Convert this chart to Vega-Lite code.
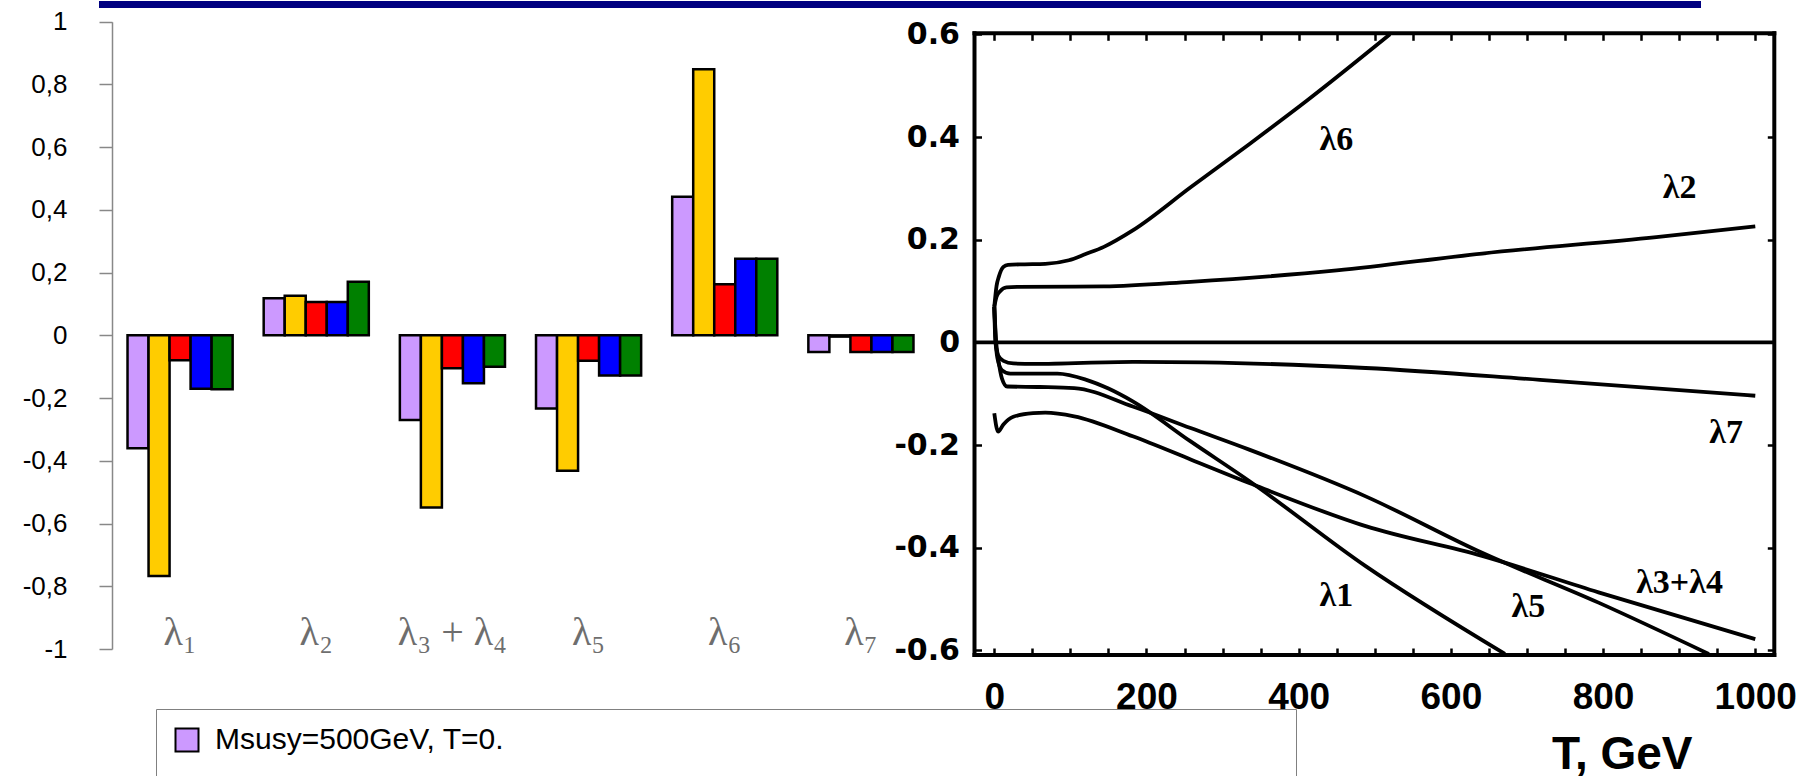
{
  "$schema": "https://vega.github.io/schema/vega-lite/v6.json",
  "width": 1812,
  "height": 776,
  "autosize": {"type": "none"},
  "padding": 0,
  "background": "white",
  "config": {"view": {"stroke": null}, "axis": {"grid": false}},
  "datasets": {
    "banner": [{"x0": 0, "x1": 1}],
    "bars": [
      {"group": "λ1", "series": "Msusy=500GeV, T=0.", "value": -0.36},
      {"group": "λ1", "series": "series 2", "value": -0.767},
      {"group": "λ1", "series": "series 3", "value": -0.079},
      {"group": "λ1", "series": "series 4", "value": -0.17},
      {"group": "λ1", "series": "series 5", "value": -0.172},
      {"group": "λ2", "series": "Msusy=500GeV, T=0.", "value": 0.118},
      {"group": "λ2", "series": "series 2", "value": 0.126},
      {"group": "λ2", "series": "series 3", "value": 0.106},
      {"group": "λ2", "series": "series 4", "value": 0.106},
      {"group": "λ2", "series": "series 5", "value": 0.171},
      {"group": "λ3+λ4", "series": "Msusy=500GeV, T=0.", "value": -0.27},
      {"group": "λ3+λ4", "series": "series 2", "value": -0.549},
      {"group": "λ3+λ4", "series": "series 3", "value": -0.105},
      {"group": "λ3+λ4", "series": "series 4", "value": -0.153},
      {"group": "λ3+λ4", "series": "series 5", "value": -0.1},
      {"group": "λ5", "series": "Msusy=500GeV, T=0.", "value": -0.233},
      {"group": "λ5", "series": "series 2", "value": -0.432},
      {"group": "λ5", "series": "series 3", "value": -0.081},
      {"group": "λ5", "series": "series 4", "value": -0.128},
      {"group": "λ5", "series": "series 5", "value": -0.128},
      {"group": "λ6", "series": "Msusy=500GeV, T=0.", "value": 0.442},
      {"group": "λ6", "series": "series 2", "value": 0.848},
      {"group": "λ6", "series": "series 3", "value": 0.163},
      {"group": "λ6", "series": "series 4", "value": 0.244},
      {"group": "λ6", "series": "series 5", "value": 0.244},
      {"group": "λ7", "series": "Msusy=500GeV, T=0.", "value": -0.053},
      {"group": "λ7", "series": "series 2", "value": -0.004},
      {"group": "λ7", "series": "series 3", "value": -0.053},
      {"group": "λ7", "series": "series 4", "value": -0.053},
      {"group": "λ7", "series": "series 5", "value": -0.053}
    ],
    "cats": [
      {"group": "λ1", "label": "λ₁"},
      {"group": "λ2", "label": "λ₂"},
      {"group": "λ3+λ4", "label": "λ₃ + λ₄"},
      {"group": "λ5", "label": "λ₅"},
      {"group": "λ6", "label": "λ₆"},
      {"group": "λ7", "label": "λ₇"}
    ],
    "curves": [
      {"line": "λ6", "T": 0, "value": 0.069},
      {"line": "λ6", "T": 3, "value": 0.11},
      {"line": "λ6", "T": 6, "value": 0.128},
      {"line": "λ6", "T": 12, "value": 0.147},
      {"line": "λ6", "T": 18, "value": 0.151},
      {"line": "λ6", "T": 40, "value": 0.152},
      {"line": "λ6", "T": 67, "value": 0.153},
      {"line": "λ6", "T": 98, "value": 0.16},
      {"line": "λ6", "T": 120, "value": 0.172},
      {"line": "λ6", "T": 144, "value": 0.186},
      {"line": "λ6", "T": 182, "value": 0.218},
      {"line": "λ6", "T": 258, "value": 0.302},
      {"line": "λ6", "T": 335, "value": 0.386},
      {"line": "λ6", "T": 411, "value": 0.471},
      {"line": "λ6", "T": 520, "value": 0.6},
      {"line": "λ2", "T": 0, "value": 0.069},
      {"line": "λ2", "T": 3, "value": 0.089},
      {"line": "λ2", "T": 8, "value": 0.1},
      {"line": "λ2", "T": 16, "value": 0.107},
      {"line": "λ2", "T": 30, "value": 0.108},
      {"line": "λ2", "T": 144, "value": 0.109},
      {"line": "λ2", "T": 258, "value": 0.118},
      {"line": "λ2", "T": 450, "value": 0.14},
      {"line": "λ2", "T": 641, "value": 0.173},
      {"line": "λ2", "T": 870, "value": 0.205},
      {"line": "λ2", "T": 1000, "value": 0.226},
      {"line": "λ7", "T": 0, "value": 0.069},
      {"line": "λ7", "T": 1.5, "value": 0.0},
      {"line": "λ7", "T": 5, "value": -0.025},
      {"line": "λ7", "T": 12, "value": -0.036},
      {"line": "λ7", "T": 25, "value": -0.041},
      {"line": "λ7", "T": 52, "value": -0.042},
      {"line": "λ7", "T": 182, "value": -0.038},
      {"line": "λ7", "T": 274, "value": -0.039},
      {"line": "λ7", "T": 488, "value": -0.05},
      {"line": "λ7", "T": 717, "value": -0.073},
      {"line": "λ7", "T": 1000, "value": -0.104},
      {"line": "λ1", "T": 0, "value": 0.069},
      {"line": "λ1", "T": 2, "value": 0.0},
      {"line": "λ1", "T": 4, "value": -0.03},
      {"line": "λ1", "T": 10, "value": -0.054},
      {"line": "λ1", "T": 21, "value": -0.061},
      {"line": "λ1", "T": 83, "value": -0.061},
      {"line": "λ1", "T": 121, "value": -0.073},
      {"line": "λ1", "T": 150, "value": -0.09},
      {"line": "λ1", "T": 182, "value": -0.115},
      {"line": "λ1", "T": 258, "value": -0.193},
      {"line": "λ1", "T": 335, "value": -0.27},
      {"line": "λ1", "T": 488, "value": -0.436},
      {"line": "λ1", "T": 671, "value": -0.607},
      {"line": "λ5", "T": 0, "value": 0.069},
      {"line": "λ5", "T": 2.5, "value": 0.0},
      {"line": "λ5", "T": 5, "value": -0.03},
      {"line": "λ5", "T": 10, "value": -0.07},
      {"line": "λ5", "T": 17, "value": -0.086},
      {"line": "λ5", "T": 60, "value": -0.087},
      {"line": "λ5", "T": 105, "value": -0.089},
      {"line": "λ5", "T": 182, "value": -0.125},
      {"line": "λ5", "T": 258, "value": -0.167},
      {"line": "λ5", "T": 335, "value": -0.209},
      {"line": "λ5", "T": 488, "value": -0.3},
      {"line": "λ5", "T": 641, "value": -0.41},
      {"line": "λ5", "T": 794, "value": -0.507},
      {"line": "λ5", "T": 939, "value": -0.607},
      {"line": "λ3+λ4", "T": 0, "value": -0.138},
      {"line": "λ3+λ4", "T": 5, "value": -0.174},
      {"line": "λ3+λ4", "T": 12, "value": -0.16},
      {"line": "λ3+λ4", "T": 25, "value": -0.145},
      {"line": "λ3+λ4", "T": 51, "value": -0.138},
      {"line": "λ3+λ4", "T": 67, "value": -0.137},
      {"line": "λ3+λ4", "T": 105, "value": -0.144},
      {"line": "λ3+λ4", "T": 182, "value": -0.183},
      {"line": "λ3+λ4", "T": 258, "value": -0.228},
      {"line": "λ3+λ4", "T": 335, "value": -0.274},
      {"line": "λ3+λ4", "T": 488, "value": -0.358},
      {"line": "λ3+λ4", "T": 641, "value": -0.416},
      {"line": "λ3+λ4", "T": 794, "value": -0.487},
      {"line": "λ3+λ4", "T": 1000, "value": -0.578}
    ],
    "curveLabels": [
      {"T": 449.5, "value": 0.394, "label": "λ6"},
      {"T": 900.5, "value": 0.3, "label": "λ2"},
      {"T": 961.7, "value": -0.177, "label": "λ7"},
      {"T": 449.5, "value": -0.495, "label": "λ1"},
      {"T": 701.8, "value": -0.515, "label": "λ5"},
      {"T": 900.5, "value": -0.469, "label": "λ3+λ4"}
    ]
  },
  "layer": [
    {
      "data": {"name": "banner"},
      "mark": {"type": "rule", "color": "#000080", "strokeWidth": 7},
      "encoding": {
        "x": {"field": "x0", "type": "quantitative", "scale": {"domain": [0, 1], "range": [99, 1701], "nice": false, "zero": false}, "axis": null},
        "x2": {"field": "x1"},
        "y": {"datum": 0, "type": "quantitative", "scale": {"domain": [0, 1], "range": [4.5, 104.5], "nice": false}, "axis": null}
      }
    },
    {
      "data": {"name": "bars"},
      "layer": [
        {
          "mark": {"type": "bar", "stroke": "black", "strokeWidth": 2.5},
          "encoding": {
            "x": {"field": "group", "type": "nominal", "sort": null,
              "scale": {"domain": ["λ1", "λ2", "λ3+λ4", "λ5", "λ6", "λ7"], "range": [112, 929], "paddingInner": 0.228, "paddingOuter": 0.114},
              "axis": null},
            "xOffset": {"field": "series", "type": "nominal", "sort": null,
              "scale": {"domain": ["Msusy=500GeV, T=0.", "series 2", "series 3", "series 4", "series 5"], "paddingInner": 0, "paddingOuter": 0}},
            "y": {"field": "value", "type": "quantitative",
              "scale": {"domain": [-1, 1], "range": [649, 21.7], "nice": false, "zero": true},
              "axis": {"orient": "left", "offset": -112, "title": null,
                "values": [1, 0.8, 0.6, 0.4, 0.2, 0, -0.2, -0.4, -0.6, -0.8, -1],
                "labelExpr": "replace(replace(format(datum.value, '~g'), '.', ','), '\u2212', '-')",
                "domainColor": "#888888", "domainWidth": 1.5, "tickColor": "#888888", "tickWidth": 1.5, "tickSize": 13,
                "labelPadding": 32, "labelFont": "Liberation Sans", "labelFontSize": 26, "labelColor": "black",
                "labelFlush": false, "labelOverlap": false, "grid": false}},
            "color": {"field": "series", "type": "nominal",
              "scale": {"domain": ["Msusy=500GeV, T=0.", "series 2", "series 3", "series 4", "series 5"], "range": ["#CC99FF", "#FFCC00", "#FF0000", "#0000FF", "#008000"]},
              "legend": {"orient": "none", "legendX": 156, "legendY": 709, "direction": "vertical",
                "values": ["Msusy=500GeV, T=0."],
                "title": "\u200b", "titleOrient": "bottom", "titlePadding": 30, "titleFontSize": 20,
                "strokeColor": "#808080", "padding": 16, "fillColor": "white",
                "symbolType": "square", "symbolSize": 529, "symbolStrokeColor": "black", "symbolStrokeWidth": 2, "symbolOpacity": 1,
                "labelFont": "Liberation Sans", "labelFontSize": 30, "labelColor": "black", "labelOffset": 13, "labelLimit": 3000,
                "labelExpr": "pad(datum.label, 111, '\u00a0') + '\u200b'"}}
          }
        },
        {
          "data": {"name": "cats"},
          "mark": {"type": "text", "font": "Liberation Serif", "fontSize": 40, "color": "#6e6e6e", "baseline": "middle", "align": "center"},
          "encoding": {
            "x": {"field": "group", "type": "nominal", "sort": null},
            "y": {"datum": -0.95, "type": "quantitative"},
            "text": {"field": "label"}
          }
        }
      ]
    },
    {
      "layer": [
        {
          "data": {"name": "curves"},
          "mark": {"type": "line", "color": "black", "strokeWidth": 3.8, "interpolate": "monotone"},
          "encoding": {
            "x": {"field": "T", "type": "quantitative",
              "scale": {"domain": [-26, 1025], "range": [974.5, 1774.3], "nice": false, "zero": false},
              "axis": {"orient": "bottom", "offset": -121,
                "values": [0, 50, 100, 150, 200, 250, 300, 350, 400, 450, 500, 550, 600, 650, 700, 750, 800, 850, 900, 950, 1000],
                "labelExpr": "datum.value % 200 === 0 ? format(datum.value, 'd') : ''",
                "domain": false, "tickSize": -7, "tickColor": "black", "tickWidth": 2.5,
                "labelPadding": 31, "labelFont": "Liberation Sans Narrow, Liberation Sans, sans-serif", "labelFontWeight": "bold", "labelFontSize": 37, "labelColor": "black",
                "labelFlush": false, "labelOverlap": false,
                "title": "T, GeV", "titleFont": "Liberation Sans", "titleFontSize": 46, "titleFontWeight": "bold", "titleColor": "black",
                "titleX": 1621.7, "titleY": 113, "titleAlign": "center", "titleBaseline": "alphabetic", "titleAnchor": null}},
            "y": {"field": "value", "type": "quantitative",
              "scale": {"domain": [-0.609, 0.602], "range": [655, 33.3], "nice": false, "zero": false},
              "axis": {"orient": "left", "offset": -974.5, "title": null,
                "values": [-0.6, -0.4, -0.2, 0, 0.2, 0.4, 0.6],
                "labelExpr": "replace(format(datum.value, '~g'), '\u2212', '-')",
                "domain": false, "tickSize": -7, "tickColor": "black", "tickWidth": 2.5,
                "labelPadding": 22, "labelFont": "DejaVu Sans", "labelFontWeight": "bold", "labelFontSize": 30, "labelColor": "black",
                "labelFlush": false, "labelOverlap": false}},
            "detail": {"field": "line", "type": "nominal"}
          }
        },
        {
          "data": {"values": [{}]},
          "mark": {"type": "rule", "color": "black", "strokeWidth": 3.8},
          "encoding": {"x": {"datum": -26, "type": "quantitative"}, "x2": {"datum": 1025}, "y": {"datum": 0, "type": "quantitative"}}
        },
        {
          "data": {"values": [{}]},
          "mark": {"type": "rule", "color": "black", "strokeWidth": 4, "strokeCap": "square"},
          "encoding": {"x": {"datum": -26, "type": "quantitative"}, "x2": {"datum": 1025}, "y": {"datum": 0.602, "type": "quantitative"}}
        },
        {
          "data": {"values": [{}]},
          "mark": {"type": "rule", "color": "black", "strokeWidth": 4, "strokeCap": "square"},
          "encoding": {"x": {"datum": -26, "type": "quantitative"}, "x2": {"datum": 1025}, "y": {"datum": -0.609, "type": "quantitative"}}
        },
        {
          "data": {"values": [{}]},
          "mark": {"type": "rule", "color": "black", "strokeWidth": 4, "strokeCap": "square"},
          "encoding": {"x": {"datum": -26, "type": "quantitative"}, "y": {"datum": -0.609, "type": "quantitative"}, "y2": {"datum": 0.602}}
        },
        {
          "data": {"values": [{}]},
          "mark": {"type": "rule", "color": "black", "strokeWidth": 4, "strokeCap": "square"},
          "encoding": {"x": {"datum": 1025, "type": "quantitative"}, "y": {"datum": -0.609, "type": "quantitative"}, "y2": {"datum": 0.602}}
        },
        {
          "data": {"name": "curveLabels"},
          "mark": {"type": "text", "font": "Liberation Serif", "fontWeight": "bold", "fontSize": 34, "color": "black", "align": "center", "baseline": "middle"},
          "encoding": {
            "x": {"field": "T", "type": "quantitative"},
            "y": {"field": "value", "type": "quantitative"},
            "text": {"field": "label"}
          }
        }
      ]
    },
    {
      "data": {"values": [{}]},
      "mark": {"type": "rule", "opacity": 0},
      "encoding": {
        "x": {"datum": 0, "type": "quantitative",
          "scale": {"domain": [-26, 1025], "range": [974.5, 1774.3], "nice": false, "zero": false},
          "axis": {"orient": "top", "offset": -33.3, "title": null, "labels": false, "domain": false,
            "values": [0, 50, 100, 150, 200, 250, 300, 350, 400, 450, 500, 550, 600, 650, 700, 750, 800, 850, 900, 950, 1000],
            "tickSize": -7, "tickColor": "black", "tickWidth": 2.5}},
        "y": {"datum": 0, "type": "quantitative",
          "scale": {"domain": [-0.609, 0.602], "range": [655, 33.3], "nice": false, "zero": false},
          "axis": {"orient": "right", "offset": -37.7, "title": null, "labels": false, "domain": false,
            "values": [-0.6, -0.4, -0.2, 0, 0.2, 0.4, 0.6],
            "tickSize": -7, "tickColor": "black", "tickWidth": 2.5}}
      }
    }
  ],
  "resolve": {"scale": {"x": "independent", "y": "independent", "color": "independent"}}
}
